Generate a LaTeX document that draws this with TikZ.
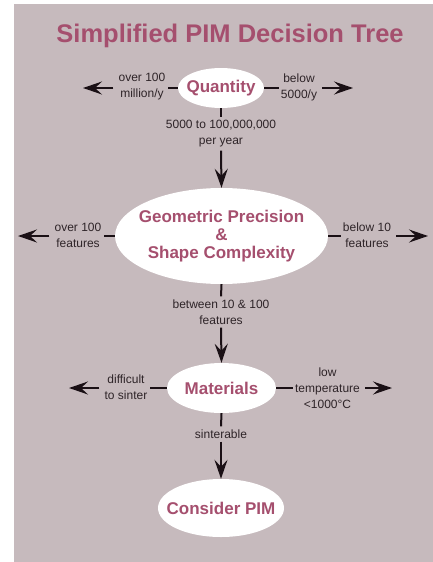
\documentclass[tikz,border=0pt]{standalone}
\usepackage{fontspec}
\setmainfont{Liberation Sans}
\usetikzlibrary{arrows.meta,shapes.geometric}
\definecolor{panel}{HTML}{C6BABD}
\definecolor{rose}{HTML}{A54F6E}
\definecolor{ink}{HTML}{2E2428}
\definecolor{wire}{HTML}{1A1015}
\tikzset{
  x=1pt, y=-1pt,
  decision/.style={ellipse, fill=white, draw=none, align=center,
    inner xsep=-20pt, inner ysep=-10pt, text=rose,
    font=\fontsize{17}{18}\selectfont\bfseries},
  choice/.style={align=center, text=ink, inner xsep=2pt, inner ysep=3pt,
    font=\fontsize{12}{16}\selectfont},
  stub/.style={draw=wire, line width=2pt},
  lead/.style={draw=wire, line width=2pt,
    -{Stealth[length=19pt, width=13pt, inset=7pt]}},
}
\begin{document}
\begin{tikzpicture}
  \useasboundingbox (0,0) rectangle (433,562);
  \fill[panel] (14,4) rectangle (433,562);

  % title
  \node[text=rose, font=\fontsize{25.5}{28}\selectfont\bfseries] (title) at (230,36)
    {Simplified PIM Decision Tree};

  % decision nodes
  \node[decision, minimum width=86pt, minimum height=40pt] (qty) at (221,88) {Quantity};
  \node[decision, minimum width=213pt, minimum height=96pt] (geo) at (221.5,236)
    {Geometric Precision\\\&\\Shape Complexity};
  \node[decision, minimum width=109pt, minimum height=50pt] (mat) at (221.5,388) {Materials};
  \node[decision, minimum width=126pt, minimum height=58pt] (pim) at (221,508) {Consider PIM};

  % branch labels
  \node[choice] (qL) at (142,87) {over 100\\million/y};
  \node[choice] (qR) at (299,87) {below\\5000/y};
  \node[choice] (qD) at (221,134) {5000 to 100,000,000\\per year};
  \node[choice] (gL) at (78,235) {over 100\\features};
  \node[choice] (gR) at (367,235) {below 10\\features};
  \node[choice] (gD) at (221,312) {between 10 \& 100\\features};
  \node[choice] (mL) at (126,387) {difficult\\to sinter};
  \node[choice] (mR) at (327.5,388) {low\\temperature\\<1000°C};
  \node[choice] (mD) at (221,434) {sinterable};

  % arrow tips of the side branches
  \coordinate (qLend) at (83,88);
  \coordinate (qRend) at (353,88);
  \coordinate (gLend) at (18,236);
  \coordinate (gRend) at (428,236);
  \coordinate (mLend) at (69,388);
  \coordinate (mRend) at (392,388);

  % Quantity branches
  \draw[stub] (qty.west) -- (qty.west -| qL.east);
  \draw[lead, shorten <=3pt] (qL.west |- qty.west) -- (qLend);
  \draw[stub] (qty.east) -- (qty.east -| qR.west);
  \draw[lead, shorten <=3pt] (qR.east |- qty.east) -- (qRend);
  \draw[stub] (qty.south) -- (qD.north);
  \draw[lead] (qD.south) -- (geo.north);

  % Geometry branches
  \draw[stub] (geo.west) -- (geo.west -| gL.east);
  \draw[lead, shorten <=3pt] (gL.west |- geo.west) -- (gLend);
  \draw[stub] (geo.east) -- (geo.east -| gR.west);
  \draw[lead, shorten <=3pt] (gR.east |- geo.east) -- (gRend);
  \draw[stub] (geo.south) -- (gD.north);
  \draw[lead] (gD.south) -- (mat.north);

  % Materials branches
  \draw[stub] (mat.west) -- (mat.west -| mL.east);
  \draw[lead, shorten <=3pt] (mL.west |- mat.west) -- (mLend);
  \draw[stub] (mat.east) -- (mat.east -| mR.west);
  \draw[lead, shorten <=3pt] (mR.east |- mat.east) -- (mRend);
  \draw[stub] (mat.south) -- (mD.north);
  \draw[lead] (mD.south) -- (pim.north);
\end{tikzpicture}
\end{document}
